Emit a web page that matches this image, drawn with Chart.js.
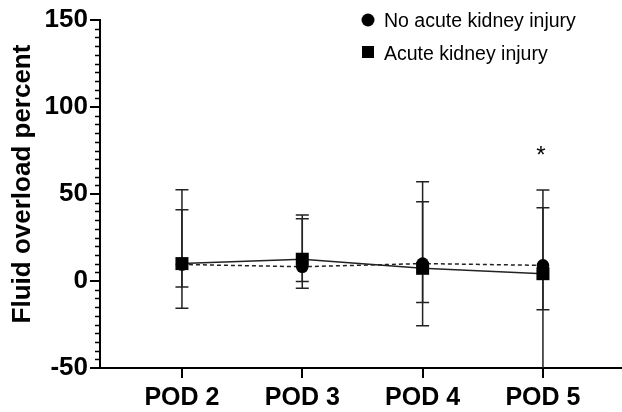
<!DOCTYPE html>
<html lang="en">
<head>
  <meta charset="UTF-8" />
  <title>Fluid overload percent</title>
  <style>
    html, body { margin: 0; padding: 0; background: #fff; }
    #wrap { width: 622px; height: 412px; }
  </style>
</head>
<body>
  <div id="wrap"><canvas id="chart" width="622" height="412"></canvas></div>

  <script src="https://cdn.jsdelivr.net/npm/chart.js"></script>
  <script>
    // values
    const categories = ['POD 2', 'POD 3', 'POD 4', 'POD 5'];

    const noAki      = [9.5, 8.2, 10.0, 9.0];
    const noAkiUpper = [41, 35.8, 45.6, 42.1];
    const noAkiLower = [-3.4, -4.2, -12.3, -16.5];

    const aki      = [10, 12.5, 7.3, 4.2];
    const akiUpper = [52.5, 38, 57, 52.3];
    const akiLower = [-15.7, -0.3, -25.7, -62];

    const yTicks = [-50, 0, 50, 100, 150];
    const significance = [{ x: 3, y: 75, text: '*' }];

    const FONT = "Arial, 'Liberation Sans', Helvetica, sans-serif";

    const toPoints = (vals) => vals.map((v, i) => ({ x: i, y: v }));

    // error bars under the markers
    const errorBars = {
      id: 'errorBars',
      beforeDatasetsDraw(chart) {
        const { ctx, chartArea, scales } = chart;
        ctx.save();
        ctx.beginPath();
        ctx.rect(chartArea.left, chartArea.top - 2, chartArea.width, chartArea.height + 2);
        ctx.clip();
        ctx.strokeStyle = '#222';
        ctx.lineWidth = 1.5;
        chart.data.datasets.forEach(ds => {
          ds.errUpper.forEach((u, i) => {
            const px = scales.x.getPixelForValue(i);
            const top = scales.y.getPixelForValue(u);
            const bot = scales.y.getPixelForValue(ds.errLower[i]);
            ctx.beginPath();
            ctx.moveTo(px, top); ctx.lineTo(px, bot);
            ctx.moveTo(px - 6.5, top); ctx.lineTo(px + 6.5, top);
            ctx.moveTo(px - 6.5, bot); ctx.lineTo(px + 6.5, bot);
            ctx.stroke();
          });
        });
        ctx.restore();
      }
    };

    // minor ticks, axis title, legend, asterisk
    const extras = {
      id: 'extras',
      afterDraw(chart) {
        const { ctx, chartArea, scales } = chart;
        ctx.save();

        // minor ticks every 5
        ctx.strokeStyle = '#000';
        ctx.lineWidth = 1.5;
        for (let v = scales.y.min; v <= scales.y.max; v += 5) {
          if (v % 50 === 0) continue;
          const py = Math.round(scales.y.getPixelForValue(v)) + 0.5;
          ctx.beginPath();
          ctx.moveTo(chartArea.left - 5, py);
          ctx.lineTo(chartArea.left, py);
          ctx.stroke();
        }

        // y axis title
        ctx.save();
        ctx.translate(23, 184);
        ctx.rotate(-Math.PI / 2);
        ctx.font = 'bold 26px ' + FONT;
        ctx.fillStyle = '#000';
        ctx.textAlign = 'center';
        ctx.textBaseline = 'middle';
        ctx.fillText('Fluid overload percent', 0, 0);
        ctx.restore();

        // legend
        ctx.font = '19.5px ' + FONT;
        ctx.fillStyle = '#000';
        ctx.textAlign = 'left';
        ctx.textBaseline = 'alphabetic';
        const ds = chart.data.datasets;
        ctx.beginPath();
        ctx.arc(368, 20, 6.5, 0, Math.PI * 2);
        ctx.fill();
        ctx.fillText(ds[0].label, 384, 27);
        ctx.fillRect(362, 46, 12, 12);
        ctx.fillText(ds[1].label, 384, 59.5);

        // significance marker
        ctx.font = '24px ' + FONT;
        ctx.textAlign = 'center';
        significance.forEach(s => {
          const px = scales.x.getPixelForValue(s.x);
          const py = scales.y.getPixelForValue(s.y);
          ctx.fillText(s.text, px - 2, py + 12);
        });

        ctx.restore();
      }
    };

    new Chart(document.getElementById('chart').getContext('2d'), {
      type: 'line',
      data: {
        datasets: [
          {
            label: 'No acute kidney injury',
            data: toPoints(noAki),
            errUpper: noAkiUpper,
            errLower: noAkiLower,
            borderColor: '#222',
            borderWidth: 1.5,
            borderDash: [4, 3],
            pointStyle: 'circle',
            pointRadius: 6.3,
            pointBackgroundColor: '#000',
            pointBorderWidth: 0,
            tension: 0
          },
          {
            label: 'Acute kidney injury',
            data: toPoints(aki),
            errUpper: akiUpper,
            errLower: akiLower,
            borderColor: '#222',
            borderWidth: 1.5,
            pointStyle: 'rect',
            pointRadius: 9.2,
            pointBackgroundColor: '#000',
            pointBorderWidth: 0,
            tension: 0
          }
        ]
      },
      options: {
        responsive: false,
        animation: false,
        devicePixelRatio: 1,
        layout: { autoPadding: false, padding: { top: 20, right: 0, bottom: 0, left: 0 } },
        plugins: {
          legend: { display: false },
          tooltip: { enabled: false }
        },
        scales: {
          x: {
            type: 'linear',
            min: -0.681,
            max: 3.657,
            afterBuildTicks: (scale) => { scale.ticks = categories.map((c, i) => ({ value: i })); },
            afterFit: (scale) => {
              scale.height = 44;
              scale.paddingLeft = 0;
              scale.paddingRight = 0;
            },
            ticks: {
              callback: (v) => categories[v],
              color: '#000',
              padding: 5,
              autoSkip: false,
              maxRotation: 0,
              font: { family: FONT, size: 25, weight: 'bold' }
            },
            grid: { drawOnChartArea: false, tickLength: 10, color: '#000', lineWidth: 2 },
            border: { display: true, color: '#000', width: 2 }
          },
          y: {
            min: -50,
            max: 150,
            afterBuildTicks: (scale) => { scale.ticks = yTicks.map(v => ({ value: v })); },
            afterFit: (scale) => { scale.width = 100; },
            ticks: {
              color: '#000',
              padding: 2,
              font: { family: FONT, size: 26, weight: 'bold' }
            },
            grid: { drawOnChartArea: false, tickLength: 10, color: '#000', lineWidth: 2 },
            border: { display: true, color: '#000', width: 2 }
          }
        }
      },
      plugins: [errorBars, extras]
    });
  </script>
</body>
</html>
